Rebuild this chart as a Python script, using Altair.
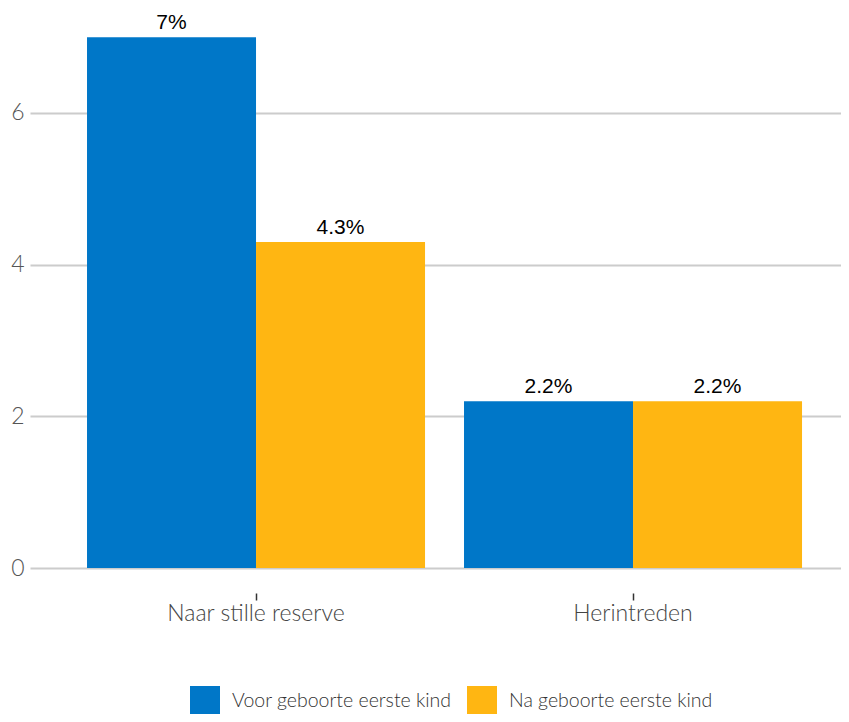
import altair as alt
import pandas as pd

categories = ["Naar stille reserve", "Herintreden"]
series = ["Voor geboorte eerste kind", "Na geboorte eerste kind"]
voor_values = [7.0, 2.2]
na_values = [4.3, 2.2]
colors = ["#0077C8", "#FFB612"]
y_ticks = [0, 2, 4, 6]

rows = []
for i, cat in enumerate(categories):
    rows.append({"category": cat, "series": series[0], "value": voor_values[i]})
    rows.append({"category": cat, "series": series[1], "value": na_values[i]})
df = pd.DataFrame(rows)
df["label"] = df["value"].map(lambda v: f"{v:g}%")

FONT = "Lato"

x_enc = alt.X(
    "category:N",
    sort=categories,
    scale=alt.Scale(paddingInner=0.1034, paddingOuter=0.1273, align=0.594),
    axis=alt.Axis(
        title=None,
        labelAngle=0,
        domain=False,
        ticks=True,
        tickSize=7,
        tickColor="#333333",
        tickWidth=1.5,
        offset=25,
        labelPadding=2,
        labelFont=FONT,
        labelFontWeight=300,
        labelFontSize=23,
        labelColor="#444444",
        grid=False,
    ),
)
xoff_enc = alt.XOffset("series:N", sort=series, scale=alt.Scale(paddingInner=0, paddingOuter=0))
y_enc = alt.Y(
    "value:Q",
    scale=alt.Scale(domain=[0, 7.358], nice=False, zero=True),
    axis=alt.Axis(
        title=None,
        values=y_ticks,
        format="d",
        domain=False,
        ticks=False,
        grid=True,
        gridColor="#cccccc",
        gridWidth=2,
        labelPadding=6,
        labelFont=FONT,
        labelFontWeight=300,
        labelFontSize=23,
        labelColor="#555555",
    ),
)

bars = alt.Chart(df).mark_bar().encode(
    x=x_enc,
    xOffset=xoff_enc,
    y=y_enc,
    color=alt.Color(
        "series:N",
        sort=series,
        scale=alt.Scale(domain=series, range=colors),
        legend=alt.Legend(
            title=None,
            orient="none",
            legendX=160,
            legendY=676,
            direction="horizontal",
            symbolType="square",
            symbolSize=900,
            symbolStrokeWidth=0,
            symbolOpacity=1,
            labelFont=FONT,
            labelFontWeight=300,
            labelFontSize=19.5,
            labelColor="#333333",
            labelOffset=12,
            columnPadding=15,
            padding=0,
            labelLimit=400,
        ),
    ),
)

texts = alt.Chart(df).mark_text(
    baseline="bottom", dy=-4, font="Liberation Sans", fontSize=21, color="black"
).encode(
    x=alt.X("category:N", sort=categories),
    xOffset=alt.XOffset("series:N", sort=series),
    y=alt.Y("value:Q"),
    text="label:N",
)

chart = (
    alt.layer(bars, texts)
    .properties(
        width=811,
        height=558,
        autosize=alt.AutoSizeParams(type="none"),
        padding={"left": 22, "top": 2, "right": 0, "bottom": 146},
    )
    .configure_view(stroke=None)
)

chart.save("out.html", embed_options={"renderer": "svg", "actions": False})
